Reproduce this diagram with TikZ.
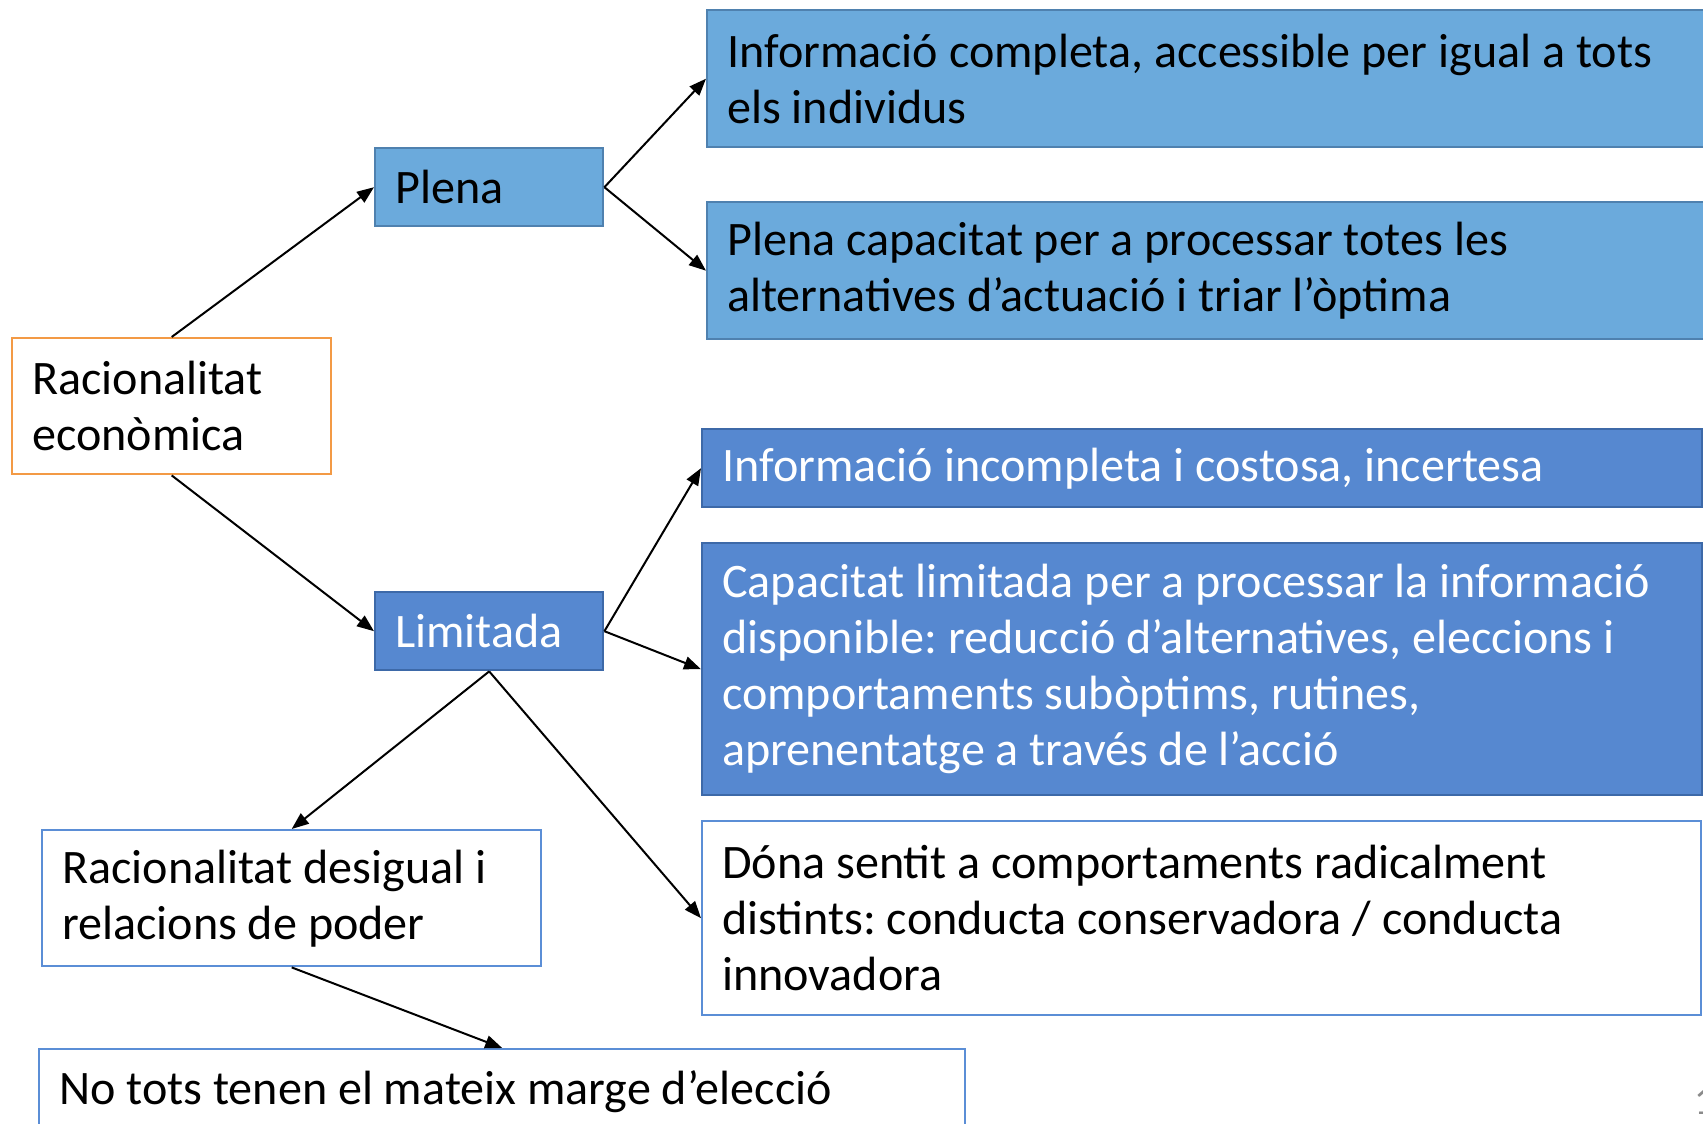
\documentclass[tikz,border=0pt]{standalone}
\usepackage{fontspec}
\setmainfont{Carlito}
\usetikzlibrary{arrows.meta}
\definecolor{lfill}{HTML}{6BAADC}
\definecolor{lborder}{HTML}{4F81AF}
\definecolor{dfill}{HTML}{5688D0}
\definecolor{dborder}{HTML}{3D69A8}
\definecolor{wborder}{HTML}{5B8ED6}
\definecolor{oborder}{HTML}{F39A45}
\definecolor{pnum}{HTML}{8A8A8A}
\newcommand{\bodyfont}{\fontsize{48.1}{56}\selectfont\frenchspacing}
\begin{document}
\begin{tikzpicture}[x=1pt,y=-1pt,
  box/.style={rectangle, line width=2.4pt, inner xsep=20pt, inner ysep=0pt,
    align=flush left, font=\bodyfont, anchor=north west},
  lightbox/.style={box, fill=lfill, draw=lborder, text=black},
  darkbox/.style={box, fill=dfill, draw=dborder, text=white},
  whitebox/.style={box, fill=white, draw=wborder, text=black},
  orangebox/.style={box, fill=white, draw=oborder, text=black},
  conn/.style={line width=2pt, -{Triangle[length=17pt,width=13pt]}}
]
\useasboundingbox (0,0) rectangle (1703,1124);
\fill[white] (0,0) rectangle (1703,1124);

\node[orangebox, minimum width=319, minimum height=136, text width=279] (econ) at (11,337)
  {Racionalitat\\econòmica};
\node[lightbox, minimum width=228, minimum height=78, text width=188] (plena) at (374,147)
  {Plena};
\node[darkbox, minimum width=228, minimum height=78, text width=188] (lim) at (374,591)
  {Limitada};

\node[lightbox, minimum width=1020, minimum height=137, text width=980] (b1) at (706,9)
  {Informació completa, accessible per igual a tots\\els individus};
\node[lightbox, minimum width=1020, minimum height=137, text width=980] (b2) at (706,201)
  {Plena capacitat per a processar totes les\\alternatives d’actuació i triar l’òptima};
\node[darkbox, minimum width=1000, minimum height=78, text width=960] (b3) at (701,428)
  {Informació incompleta i costosa, incertesa};
\node[darkbox, minimum width=1000, minimum height=252, text width=960] (b4) at (701,542)
  {Capacitat limitada per a processar la informació\\disponible: reducció d’alternatives, eleccions i\\comportaments subòptims, rutines,\\aprenentatge a través de l’acció};
\node[whitebox, minimum width=999, minimum height=194, text width=959] (b5) at (701,820)
  {Dóna sentit a comportaments radicalment\\distints: conducta conservadora / conducta\\innovadora};
\node[whitebox, minimum width=499, minimum height=136, text width=459] (desig) at (41,829)
  {Racionalitat desigual i\\relacions de poder};
\node[whitebox, minimum width=926, minimum height=84, text width=886] (notots) at (38,1048)
  {No tots tenen el mateix marge d’elecció};

\node[anchor=base west, inner sep=0pt, text=pnum, font=\fontsize{40}{48}\selectfont] (pnum) at (1694,1114) {1};

\draw[conn] (econ.north) -- (plena.west);
\draw[conn] (econ.south) -- (lim.west);
\draw[conn] (plena.east) -- (b1.west);
\draw[conn] (plena.east) -- (b2.west);
\draw[conn] (lim.east) -- (b3.west);
\draw[conn] (lim.east) -- (b4.west);
\draw[conn] (lim.south) -- (desig.north);
\draw[conn] (lim.south) -- (b5.west);
\draw[conn] (desig.south) -- (notots.north);
\end{tikzpicture}
\end{document}
